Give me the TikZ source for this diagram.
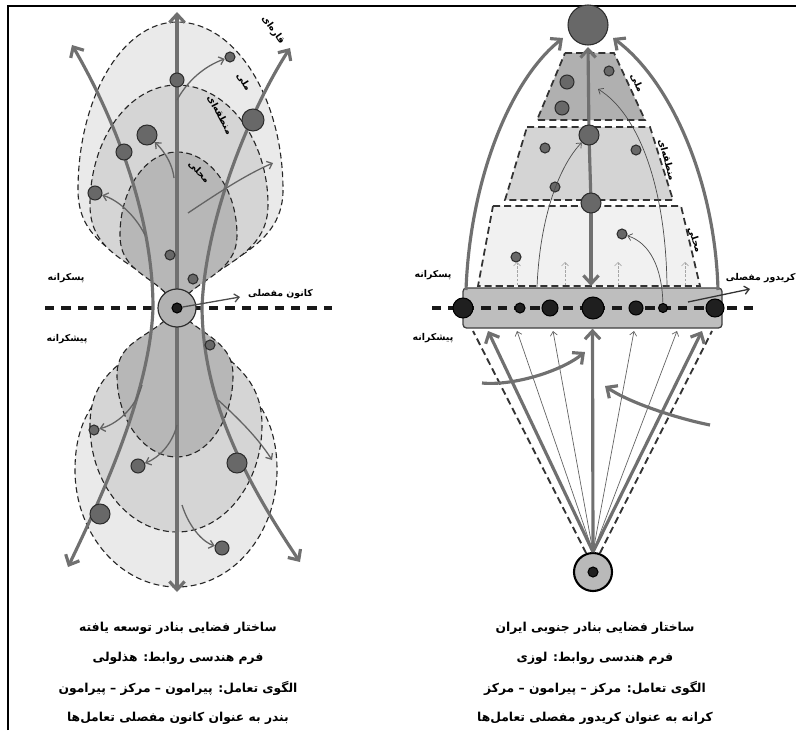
\documentclass[tikz,border=0pt]{standalone}
\usepackage{fontspec}
\usetikzlibrary{arrows.meta, positioning}
\newfontfamily\fa[Script=Arabic]{DejaVu Sans}
\TeXXeTstate=1
\definecolor{flowgray}{RGB}{112,112,112}
\definecolor{thingray}{RGB}{100,100,100}
\definecolor{portfill}{RGB}{104,104,104}
\definecolor{portedge}{RGB}{45,45,45}
\definecolor{ringA}{RGB}{234,234,234}
\definecolor{ringB}{RGB}{213,213,213}
\definecolor{ringC}{RGB}{183,183,183}
\definecolor{bandfill}{RGB}{190,190,190}
\definecolor{tierA}{RGB}{176,176,176}
\definecolor{tierB}{RGB}{212,212,212}
\definecolor{tierC}{RGB}{241,241,241}
% petal: left x, right x, tip y, y of widest point, fill
\newcommand{\petal}[5]{%
  \filldraw[zone, fill=#5] (177,307)
    .. controls ({177-0.35*(177-#1)},{307-0.45*(307-#4)}) and (#1,{#4+0.55*(307-#4)}) .. (#1,#4)
    .. controls (#1,{#4-0.55*(#4-#3)}) and ({177-0.55*(177-#1)},#3) .. (177,#3)
    .. controls ({177+0.55*(#2-177)},#3) and (#2,{#4-0.55*(#4-#3)}) .. (#2,#4)
    .. controls (#2,{#4+0.55*(307-#4)}) and ({177+0.3*(#2-177)},{307-0.4*(307-#4)}) .. cycle;}
\begin{document}
\begin{tikzpicture}[
    x=0.03cm, y=-0.03cm,
    zone/.style={draw=black!85, line width=0.95pt, dash pattern=on 5pt off 3pt},
    tier/.style={draw=black!80, line width=1.5pt, dash pattern=on 6pt off 3.5pt},
    bound/.style={draw=black!80, line width=1.6pt, dash pattern=on 6pt off 3.5pt},
    midline/.style={draw=black!90, line width=2.8pt, dash pattern=on 8pt off 6pt},
    flow/.style={draw=flowgray, line width=2.7pt, -{Straight Barb[length=7pt,width=13pt]}},
    thinflow/.style={draw=thingray, line width=1.1pt, -{Straight Barb[length=4pt,width=7pt]}},
    hair/.style={draw=thingray, line width=0.6pt, -{Straight Barb[length=3.5pt,width=6pt]}},
    ghost/.style={draw=gray!70, line width=0.5pt, dash pattern=on 2pt off 1.5pt, -{Straight Barb[length=3pt,width=6pt]}},
    port/.style={circle, inner sep=0pt, minimum size=#1*0.06cm, draw=portedge, fill=portfill, line width=0.9pt},
    hub/.style={port=#1, draw=black, fill=black!88},
    band/.style={draw=black!75, fill=bandfill, rounded corners=3pt, line width=1.1pt,
                 minimum width=7.77cm, minimum height=1.2cm, inner sep=0pt},
    lab/.style={font=\fa\bfseries\fontsize{8}{9}\selectfont, inner sep=1pt},
    captxt/.style={font=\fa\bfseries\fontsize{10.5}{12}\selectfont, inner sep=1pt},
  ]
  \useasboundingbox (0,0) rectangle (796,730);
  \draw[line width=1.2pt] (8,730) -- (8,6) -- (796,6);

  % left: hyperbola
  \petal{78}{283}{22}{190}{ringA}
  \petal{90}{268}{85}{205}{ringB}
  \petal{120}{237}{152}{235}{ringC}
  \petal{75}{277}{587}{470}{ringA}
  \petal{90}{262}{532}{425}{ringB}
  \petal{117}{233}{457}{375}{ringC}

  \draw[midline] (45,308) -- (332,308);

  \coordinate (c) at (177,308);
  \coordinate (ctop) at (177,12);
  \coordinate (cbot) at (177,592);
  \coordinate (wl) at (153,308);
  \coordinate (wr) at (202,308);
  \coordinate (tl) at (72,45);
  \coordinate (bl) at (68,567);
  \coordinate (tr) at (290,48);
  \coordinate (br) at (300,562);
  \draw[flow] (c) -- (ctop);
  \draw[flow] (c) -- (cbot);
  \draw[flow] (wl) .. controls (153,210) and (110,110) .. (tl);
  \draw[flow] (wl) .. controls (150,390) and (105,490) .. (bl);
  \draw[flow] (wr) .. controls (205,220) and (250,110) .. (tr);
  \draw[flow] (wr) .. controls (203,400) and (245,480) .. (br);

  \node[port=7]  (u1) at (177,80)  {};
  \node[port=5]  (u2) at (230,57)  {};
  \node[port=11] (u3) at (253,120) {};
  \node[port=10] (u4) at (147,135) {};
  \node[port=8]  (u5) at (124,152) {};
  \node[port=7]  (u6) at (95,193)  {};
  \node[port=5]  (u7) at (170,255) {};
  \node[port=5]  (u8) at (193,279) {};
  \node[port=5]  (l1) at (94,430)  {};
  \node[port=7]  (l2) at (138,466) {};
  \node[port=10] (l3) at (100,514) {};
  \node[port=10] (l4) at (237,463) {};
  \node[port=7]  (l5) at (222,548) {};
  \node[port=5]  (l6) at (210,345) {};

  \coordinate (a1) at (177,100);
  \coordinate (a2) at (174,178);
  \coordinate (a3) at (145,235);
  \coordinate (a4) at (188,213);
  \coordinate (a4e) at (273,163);
  \coordinate (a5) at (142,385);
  \coordinate (a6) at (177,425);
  \coordinate (a7) at (182,505);
  \coordinate (a8) at (218,400);
  \coordinate (a8e) at (272,460);
  \draw[thinflow] (a1) .. controls (188,80) and (205,66) .. (u2);
  \draw[thinflow] (a2) .. controls (172,160) and (160,147) .. (u4);
  \draw[thinflow] (a3) .. controls (135,215) and (118,200) .. (u6);
  \draw[thinflow] (a4) .. controls (215,195) and (245,175) .. (a4e);
  \draw[thinflow] (a5) .. controls (135,410) and (115,425) .. (l1);
  \draw[thinflow] (a6) .. controls (172,445) and (158,458) .. (l2);
  \draw[thinflow] (a7) .. controls (190,530) and (205,543) .. (l5);
  \draw[thinflow] (a8) .. controls (238,418) and (258,438) .. (a8e);

  \node[circle, minimum size=1.14cm, inner sep=0pt, draw=portedge, fill=gray!60, line width=1pt] (cring) at (c) {};
  \node[hub=5] (cdot) at (c) {};
  \coordinate (kn) at (240,297);
  \draw[thinflow, draw=black!70] (cdot) -- (kn);
  \node[lab, right=0.2cm of kn, yshift=0.1cm] (knl) {\beginR کانون مفصلی\endR};

  \node[lab, rotate=-55] (q1) at (273,30)  {\beginR قاره‌ای\endR};
  \node[lab, rotate=-58] (q2) at (244,82)  {\beginR ملی\endR};
  \node[lab, rotate=-62] (q3) at (220,115) {\beginR منطقه‌ای\endR};
  \node[lab, rotate=-45] (q4) at (199,172) {\beginR محلی\endR};
  \node[lab] (pl) at (66,278) {\beginR پسکرانه\endR};
  \node[lab] (fl) at (67,339) {\beginR پیشکرانه\endR};

  % right: lozenge
  \filldraw[tier, fill=tierA] (565,53) -- (614,53) -- (645,120) -- (537,120) -- cycle;
  \filldraw[tier, fill=tierB] (527,127) -- (650,127) -- (673,200) -- (505,200) -- cycle;
  \filldraw[tier, fill=tierC] (493,206) -- (681,206) -- (700,286) -- (478,286) -- cycle;

  \node[band] (band) at (592.5,308) {};
  \draw[midline] (432,308) -- (760,308);

  \coordinate (al) at (466,290);
  \coordinate (ar) at (718,290);
  \coordinate (atl) at (563,38);
  \coordinate (atr) at (613,38);
  \draw[flow] (al) .. controls (470,180) and (510,80) .. (atl);
  \draw[flow] (ar) .. controls (715,180) and (670,80) .. (atr);

  \coordinate (vm1) at (589,135);
  \coordinate (vm2) at (591,203);
  \coordinate (vtop) at (588,47);
  \coordinate (vbot) at (591,286);
  \draw[flow] (vm1) -- (vtop);
  \draw[flow, -] (vm2) -- (vm1);
  \draw[flow] (vm2) -- (vbot);

  \node[port=20] (tn) at (588,25) {};
  \node[port=10] (m1) at (vm1) {};
  \node[port=10] (m2) at (vm2) {};
  \node[port=7] (t1) at (567,82)  {};
  \node[port=7] (t2) at (562,108) {};
  \node[port=5] (t3) at (609,71)  {};
  \node[port=5] (g1) at (545,148) {};
  \node[port=5] (g2) at (555,187) {};
  \node[port=5] (g3) at (636,150) {};
  \node[port=5] (k1) at (516,257) {};
  \node[port=5] (k2) at (622,234) {};

  \node[hub=10]  (b1) at (463,308) {};
  \node[hub=5]   (b2) at (520,308) {};
  \node[hub=8]   (b3) at (550,308) {};
  \node[hub=11]  (b4) at (593,308) {};
  \node[hub=7]   (b5) at (636,308) {};
  \node[hub=4.5] (b6) at (663,308) {};
  \node[hub=9]   (b7) at (715,308) {};

  \coordinate (h1) at (537,287);
  \coordinate (h2) at (667,287);
  \coordinate (h2e) at (598,89);
  \draw[hair, draw=black!70] (h1) .. controls (540,215) and (560,165) .. (m1);
  \draw[hair, draw=black!70] (h2) .. controls (666,190) and (640,115) .. (h2e);
  \draw[hair, draw=black!70] (b6) .. controls (662,268) and (650,243) .. (k2);
  \foreach \x in {517,565,618,685} {
    \coordinate (g\x) at (\x,285);
    \coordinate (gg\x) at (\x,262);
    \draw[ghost] (g\x) -- (gg\x);
  }

  \coordinate (kr0) at (688,302);
  \coordinate (kr) at (750,289);
  \draw[thinflow, draw=black!80] (kr0) -- (kr);
  \node[lab, anchor=east] (krl) at (797,278) {\beginR کریدور مفصلی\endR};

  \node[circle, minimum size=1.14cm, inner sep=0pt, draw=black, line width=1.8pt, fill=gray!55] (bc) at (593,572) {};
  \node[hub=5] (bcdot) at (bc) {};
  \coordinate (dl) at (473,331);
  \coordinate (dr) at (712,331);
  \draw[bound] (bc.110) -- (dl);
  \draw[bound] (bc.70) -- (dr);
  \coordinate (fl0) at (488,331);
  \coordinate (fr0) at (702,331);
  \foreach \x in {517,553,634,677} {
    \coordinate (f\x) at (\x,331);
    \draw[hair] (bc.north) -- (f\x);
  }
  \draw[flow] (bc.north) -- (fl0);
  \draw[flow] (bc.north) -- (band.south);
  \draw[flow] (bc.north) -- (fr0);

  \coordinate (s1) at (482,383);
  \coordinate (s1e) at (585,352);
  \coordinate (s2) at (710,425);
  \coordinate (s2e) at (605,386);
  \draw[flow] (s1) .. controls (512,386) and (560,372) .. (s1e);
  \draw[flow] (s2) .. controls (675,418) and (628,402) .. (s2e);

  \node[lab, rotate=-65] (r1) at (637,83)  {\beginR ملی\endR};
  \node[lab, rotate=-75] (r2) at (667,160) {\beginR منطقه‌ای\endR};
  \node[lab, rotate=-72] (r3) at (695,240) {\beginR محلی\endR};
  \node[lab] (pr) at (433,275) {\beginR پسکرانه\endR};
  \node[lab] (fr) at (433,338) {\beginR پیشکرانه\endR};

  % captions
  \node[captxt] (capL1) at (178,628) {\beginR ساختار فضایی بنادر توسعه یافته\endR};
  \node[captxt] (capL2) at (178,658) {\beginR فرم هندسی روابط: هذلولی\endR};
  \node[captxt] (capL3) at (178,688) {\beginR الگوی تعامل: پیرامون – مرکز – پیرامون\endR};
  \node[captxt] (capL4) at (178,718) {\beginR بندر به عنوان کانون مفصلی تعامل‌ها\endR};
  \node[captxt] (capR1) at (595,628) {\beginR ساختار فضایی بنادر جنوبی ایران\endR};
  \node[captxt] (capR2) at (595,658) {\beginR فرم هندسی روابط: لوزی\endR};
  \node[captxt] (capR3) at (595,688) {\beginR الگوی تعامل: مرکز – پیرامون – مرکز\endR};
  \node[captxt] (capR4) at (595,718) {\beginR کرانه به عنوان کریدور مفصلی تعامل‌ها\endR};
\end{tikzpicture}
\end{document}
